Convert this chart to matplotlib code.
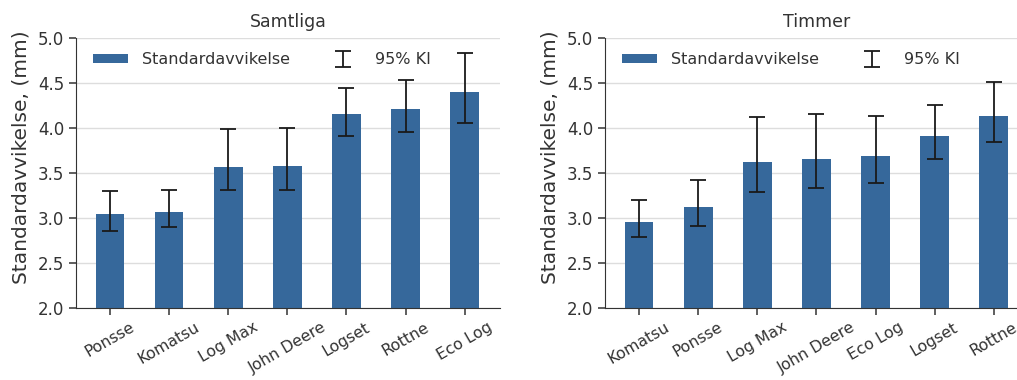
import matplotlib
matplotlib.use("Agg")
import matplotlib.pyplot as plt
import numpy as np

plt.rcParams['font.family'] = ['DejaVu Sans']
plt.rcParams['text.color'] = '#333333'
plt.rcParams['axes.labelcolor'] = '#333333'
plt.rcParams['xtick.color'] = '#333333'
plt.rcParams['ytick.color'] = '#333333'

# Samtliga
names_all = ["Ponsse", "Komatsu", "Log Max", "John Deere", "Logset", "Rottne", "Eco Log"]
sd_all = [3.04, 3.07, 3.57, 3.58, 4.15, 4.21, 4.40]
ci_low_all = [2.86, 2.90, 3.31, 3.31, 3.91, 3.96, 4.06]
ci_high_all = [3.30, 3.31, 3.99, 4.00, 4.44, 4.53, 4.83]

# Timmer
names_tim = ["Komatsu", "Ponsse", "Log Max", "John Deere", "Eco Log", "Logset", "Rottne"]
sd_tim = [2.96, 3.12, 3.62, 3.65, 3.685, 3.91, 4.13]
ci_low_tim = [2.785, 2.91, 3.29, 3.33, 3.39, 3.66, 3.845]
ci_high_tim = [3.20, 3.42, 4.12, 4.15, 4.13, 4.25, 4.51]

bar_color = '#36689b'
titles = ["Samtliga", "Timmer"]
datasets = [(names_all, sd_all, ci_low_all, ci_high_all),
            (names_tim, sd_tim, ci_low_tim, ci_high_tim)]

fig = plt.figure(figsize=(10.17, 3.8), dpi=100)
ax_left = fig.add_axes([0.0747, 0.1895, 0.417, 0.7105])
ax_right = fig.add_axes([0.5949, 0.1895, 0.417, 0.7105])

for ax, title, (names, sd, lo, hi) in zip([ax_left, ax_right], titles, datasets):
    x = np.arange(len(names))
    sd = np.array(sd)
    lo = np.array(lo)
    hi = np.array(hi)
    ax.bar(x, sd, width=0.48, color=bar_color, label="Standardavvikelse", zorder=2)
    ax.errorbar(x, sd, yerr=[sd - lo, hi - sd], fmt='none', ecolor='#1a1a1a',
                elinewidth=1.3, capsize=6, capthick=1.3, label="95% KI", zorder=3)
    ax.set_ylim(2.0, 5.0)
    ax.set_xlim(-0.58, len(names) - 1 + 0.6)
    ax.set_yticks([2.0, 2.5, 3.0, 3.5, 4.0, 4.5, 5.0])
    ax.set_yticklabels(["2.0", "2.5", "3.0", "3.5", "4.0", "4.5", "5.0"], fontsize=12)
    ax.set_xticks(x)
    ax.set_xticklabels(names, rotation=30, ha='center', fontsize=11.3)
    ax.yaxis.grid(True, color='#dddddd', linewidth=1.0, zorder=0)
    ax.set_axisbelow(True)
    ax.spines['top'].set_visible(False)
    ax.spines['right'].set_visible(False)
    ax.spines['left'].set_color('#333333')
    ax.spines['bottom'].set_color('#333333')
    ax.tick_params(axis='both', length=5, width=1.1, direction='out')
    ax.set_ylabel("Standardavvikelse, (mm)", fontsize=14.5)
    ax.yaxis.set_label_coords(-0.108, 0.56)
    ax.set_title(title, fontsize=12.5, pad=8)
    ax.legend(loc='upper left', ncol=2, frameon=False, fontsize=11.5,
              handlelength=2.2, handleheight=0.5, handletextpad=0.9,
              columnspacing=2.2, bbox_to_anchor=(0.006, 1.0))

fig.savefig("out.png", dpi=100)
